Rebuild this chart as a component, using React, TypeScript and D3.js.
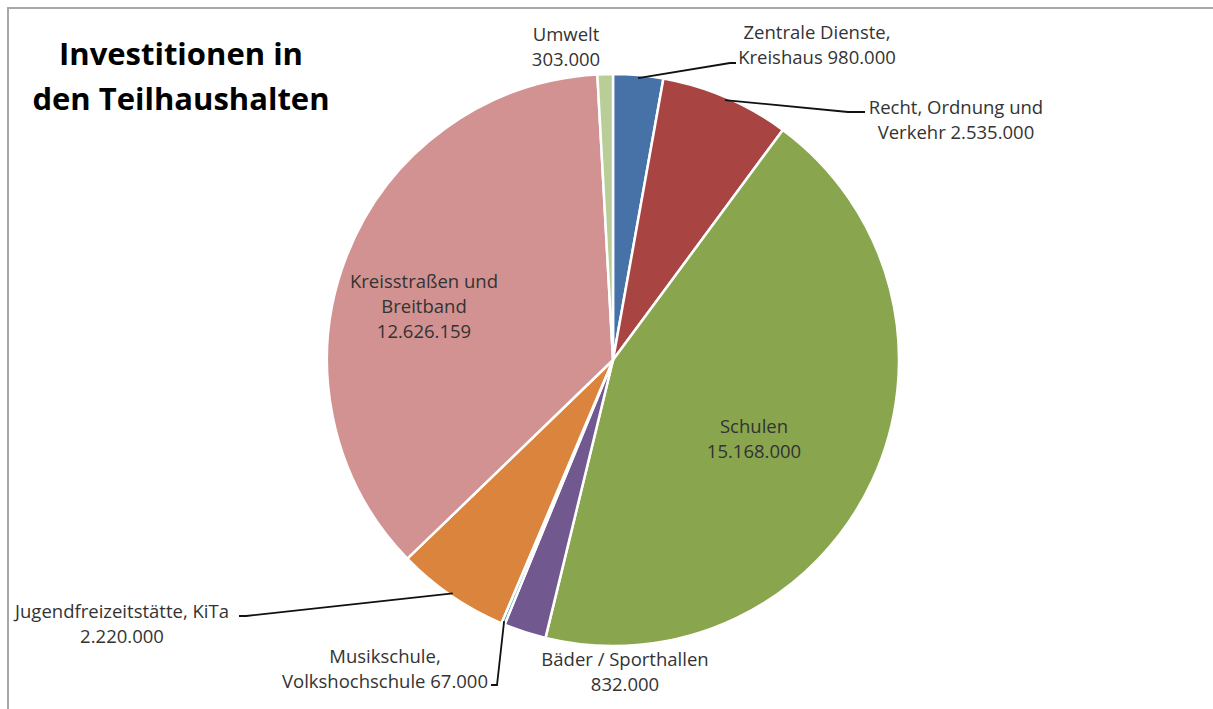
import React, { useEffect, useRef } from 'react';
import * as d3 from 'd3';

// ── data ─────────────────────────────────────────────
const categories = [
  'Zentrale Dienste, Kreishaus',
  'Recht, Ordnung und Verkehr',
  'Schulen',
  'Bäder / Sporthallen',
  'Musikschule, Volkshochschule',
  'Jugendfreizeitstätte, KiTa',
  'Kreisstraßen und Breitband',
  'Umwelt',
];
const values = [980000, 2535000, 15168000, 832000, 67000, 2220000, 12626159, 303000];
const valueLabels = ['980.000', '2.535.000', '15.168.000', '832.000', '67.000', '2.220.000', '12.626.159', '303.000'];
const titleLines = ['Investitionen in', 'den Teilhaushalten'];

// ── styling / layout ─────────────────────────────────
const COLORS = ['#4672a8', '#a84442', '#89a54e', '#71588f', '#4198af', '#db843d', '#d29291', '#b9cd96'];
const W = 1213, H = 709;
const CX = 613, CY = 360, R = 286;
const font = "'Open Sans', Lato, sans-serif";

// label blocks: text lines, centre x / first baseline, optional leader (elbow -> end)
const LABELS: { lines: string[]; x: number; y: number; elbow?: [number, number]; end?: [number, number] }[] = [
  { lines: ['Zentrale Dienste,', 'Kreishaus ' + valueLabels[0]], x: 817, y: 39, elbow: [730, 63], end: [736, 63] },
  { lines: ['Recht, Ordnung und', 'Verkehr ' + valueLabels[1]], x: 956, y: 114, elbow: [848, 112], end: [865, 112] },
  { lines: ['Schulen', valueLabels[2]], x: 754, y: 433 },
  { lines: ['Bäder / Sporthallen', valueLabels[3]], x: 625, y: 666 },
  { lines: ['Musikschule,', 'Volkshochschule ' + valueLabels[4]], x: 385, y: 663, elbow: [497, 685], end: [491, 685] },
  { lines: ['Jugendfreizeitstätte, KiTa', valueLabels[5]], x: 122, y: 618, elbow: [246, 616], end: [239, 616] },
  { lines: ['Kreisstraßen und', 'Breitband', valueLabels[6]], x: 424, y: 288 },
  { lines: ['Umwelt', valueLabels[7]], x: 566, y: 41 },
];

export default function App() {
  const ref = useRef<SVGSVGElement>(null);

  useEffect(() => {
    const svg = d3.select(ref.current);
    svg.selectAll('*').remove();

    // frame
    svg.append('path').attr('d', `M8,${H} L8,8 L${W},8`).attr('fill', 'none')
      .attr('stroke', '#a8a8a8').attr('stroke-width', 2);

    // title
    const t = svg.append('text').attr('font-family', font).attr('font-weight', 700)
      .attr('font-size', 31).attr('fill', '#000').attr('text-anchor', 'middle');
    titleLines.forEach((l, i) => t.append('tspan').attr('x', 181).attr('y', 65 + i * 45).text(l));

    const data = categories.map((c, i) => ({ name: c, value: values[i] }));
    const pie = d3.pie<any>().value(d => d.value).sort(null);
    const arcs = pie(data);
    const arc = d3.arc<any>().innerRadius(0).outerRadius(R);

    const g = svg.append('g').attr('transform', `translate(${CX},${CY})`);
    g.selectAll('path').data(arcs).join('path')
      .attr('d', arc).attr('fill', (_, i) => COLORS[i])
      .attr('stroke', '#fff').attr('stroke-width', 2.5).attr('stroke-linejoin', 'round');

    // leaders
    arcs.forEach((a, i) => {
      const lb = LABELS[i];
      if (!lb.elbow || !lb.end) return;
      const m = (a.startAngle + a.endAngle) / 2;
      const p0: [number, number] = [CX + (R - 3) * Math.sin(m), CY - (R - 3) * Math.cos(m)];
      svg.append('path').attr('d', d3.line()([p0, lb.elbow, lb.end]))
        .attr('fill', 'none').attr('stroke', '#111').attr('stroke-width', 1.8);
    });

    // labels
    LABELS.forEach(lb => {
      const tx = svg.append('text').attr('font-family', font).attr('font-size', 18.5)
        .attr('fill', '#333').attr('text-anchor', 'middle');
      lb.lines.forEach((l, j) => tx.append('tspan').attr('x', lb.x).attr('y', lb.y + j * 25).text(l));
    });
  }, []);

  return (
    <svg ref={ref} width={W} height={H}
      style={{ position: 'absolute', left: 0, top: 0, background: '#fff', display: 'block' }} />
  );
}
